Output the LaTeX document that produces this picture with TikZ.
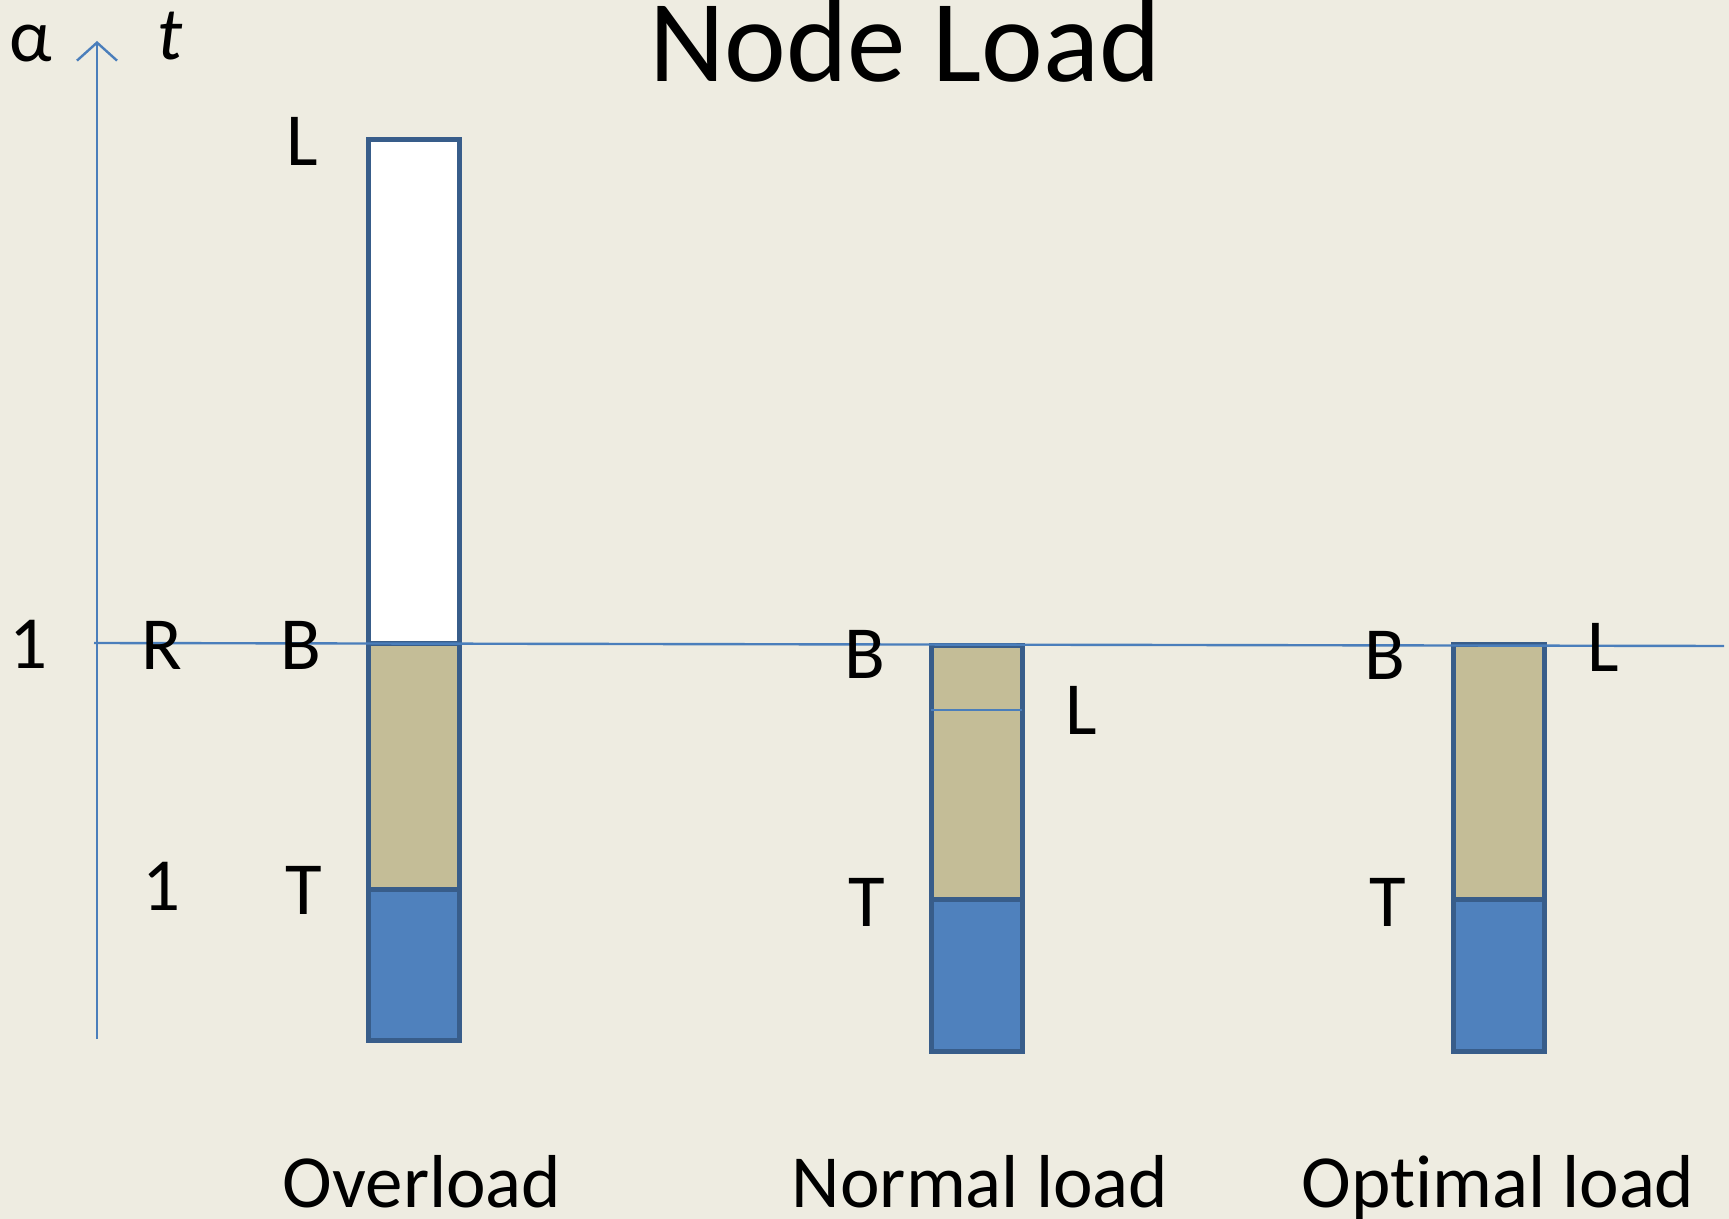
\documentclass[tikz,border=0pt]{standalone}
\usepackage{fontspec}
\setmainfont{Carlito}[Ligatures=NoCommon]
\usetikzlibrary{arrows.meta}

\definecolor{paper}{HTML}{EEECE1}
\definecolor{khaki}{HTML}{C4BD97}
\definecolor{loadblue}{HTML}{4F81BD}
\definecolor{edgeblue}{HTML}{385D8A}
\definecolor{axisblue}{HTML}{4A7EBB}

\tikzset{
  bar/.style={draw=edgeblue,line width=2.5pt},
  axisline/.style={draw=axisblue,line width=1.2pt},
  lbl/.style={font=\fontsize{37.5}{40}\selectfont,inner sep=0pt},
  caption/.style={lbl,anchor=base},
}

\begin{document}
\begin{tikzpicture}[x=0.5pt,y=-0.5pt,line join=miter]
  % page
  \fill[paper] (0,0) rectangle (1729,1219);
  \useasboundingbox (0,0) rectangle (1729,1219);

  \coordinate (Obot) at (97,1039);
  \coordinate (Otop) at (97,41);
  \coordinate (Hl) at (94,643);
  \coordinate (Hr) at (1724,646);

  % Overload
  \draw[bar,fill=white]    (368,140) rectangle (459,643);
  \draw[bar,fill=khaki]    (368,643) rectangle (459,889);
  \draw[bar,fill=loadblue] (368,889) rectangle (459,1040);

  % Normal load
  \draw[bar,fill=khaki]    (931,645) rectangle (1022,899);
  \draw[bar,fill=loadblue] (931,899) rectangle (1022,1051);
  \coordinate (nL1) at (931,710);
  \coordinate (nL2) at (1022,710);
  \draw[axisline] (nL1) -- (nL2);

  % Optimal load
  \draw[bar,fill=khaki]    (1453,644) rectangle (1544,899);
  \draw[bar,fill=loadblue] (1453,899) rectangle (1544,1051);

  % axis and level 1
  \draw[axisline,-{Straight Barb[length=9pt,width=20pt]}] (Obot) -- (Otop);
  \draw[axisline] (Hl) -- (Hr);

  % Labels
  \node[anchor=base,inner sep=0pt,font=\fontsize{58.5}{60}\selectfont] (title) at (905,82) {Node Load};
  \node[lbl] (alpha) at (31,44) {α};
  \node[lbl] (tt) at (170,36) {\itshape t};
  \node[lbl] (one) at (29,644) {1};
  \node[lbl] (R) at (162,645) {R};
  \node[lbl] (oneT) at (162,886) {1};

  \node[lbl] (oL) at (302,141) {L};
  \node[lbl] (oB) at (301,645) {B};
  \node[lbl] (oT) at (304,890) {T};

  \node[lbl] (nB) at (865,654) {B};
  \node[lbl] (nL) at (1081,710) {L};
  \node[lbl] (nT) at (867,902) {T};

  \node[lbl] (pB) at (1385,655) {B};
  \node[lbl] (pL) at (1603,647) {L};
  \node[lbl] (pT) at (1388,902) {T};

  \node[caption] (over) at (422,1207) {Overload};
  \node[caption] (normal) at (980,1207) {Normal load};
  \node[caption] (optimal) at (1498,1207) {Optimal load};
\end{tikzpicture}
\end{document}
